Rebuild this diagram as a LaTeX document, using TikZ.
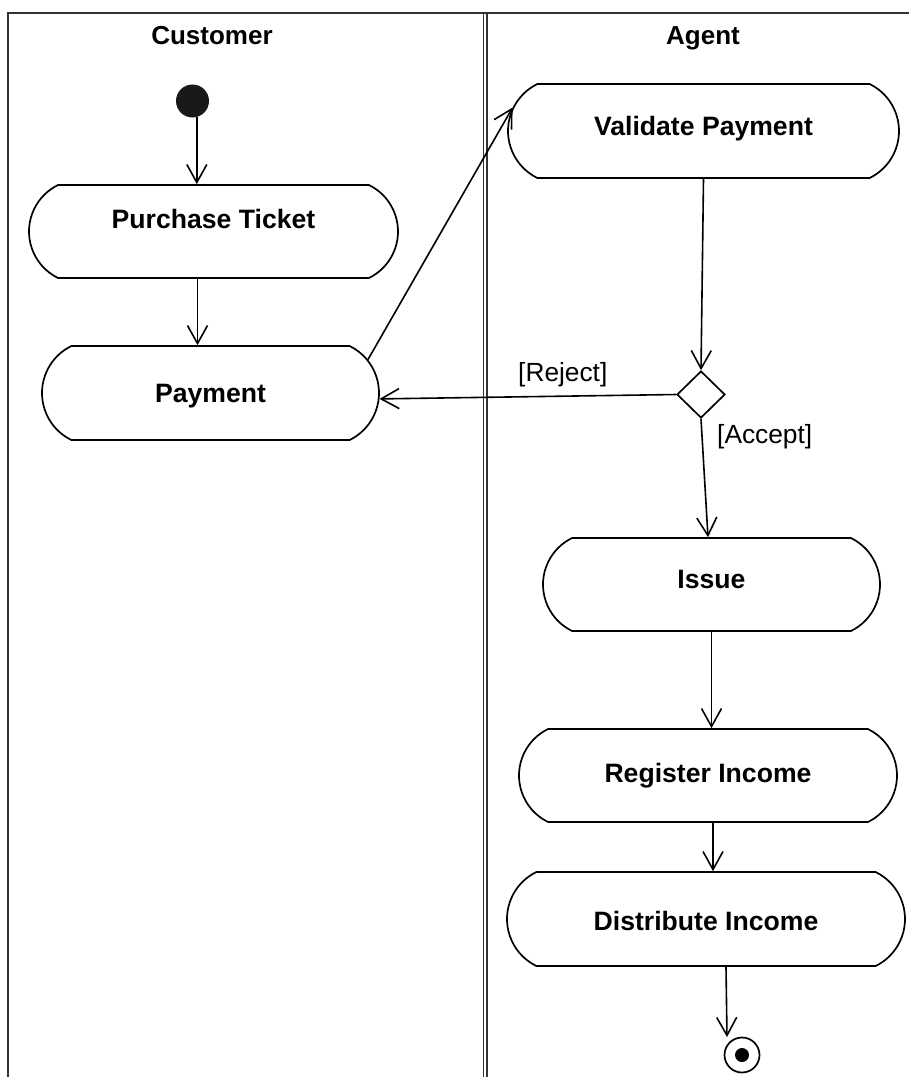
\documentclass[tikz,border=0pt]{standalone}
\usepackage{fontspec}
\setmainfont{Liberation Sans}
\usetikzlibrary{arrows.meta,shapes.misc,shapes.geometric,calc}
\begin{document}
\begin{tikzpicture}[x=1pt,y=-1pt,
  lane/.style={draw=black!80, line width=2pt},
  action/.style={rounded rectangle, rounded rectangle arc length=128, draw,
    line width=1.7pt, inner sep=0pt, text height=19pt, text depth=0pt,
    font=\bfseries\fontsize{26.6}{31}\selectfont},
  flow/.style={-{Straight Barb[length=18pt,width=20pt,line width=1.6pt]}, line width=1.6pt},
  guard/.style={font=\fontsize{26.3}{31}\selectfont, inner sep=0pt, anchor=base west},
  header/.style={font=\bfseries\fontsize{26}{31}\selectfont, inner sep=0pt, anchor=base},
]
\useasboundingbox (0,0) rectangle (909,1077);
\fill[white] (0,0) rectangle (909,1077);

% swimlane frame and partition
\draw[lane] (8,1077) -- (8,13) -- (909,13);
\draw[lane, line width=1.6pt] (483.5,13) -- (483.5,1077) (487,13) -- (487,1077);

% lane headers
\node[header] (hc) at (212,44) {Customer};
\node[header] (ha) at (703,44) {Agent};

% Customer lane
\node[circle, fill=black!90, minimum size=33pt, inner sep=0pt] (start) at (192.5,101) {};
\node[action, minimum width=369pt, minimum height=93pt, text depth=26pt] (pt) at (213.5,231.5) {Purchase Ticket};
\node[action, minimum width=337pt, minimum height=94pt] (pay) at (210.5,393) {Payment};

% Agent lane
\node[action, minimum width=391pt, minimum height=94pt, text depth=10pt] (vp) at (703.5,131) {Validate Payment};
\node[diamond, draw, line width=1.7pt, minimum width=48pt, minimum height=47pt, inner sep=0pt] (dec) at (701,394.5) {};
\node[action, minimum width=337pt, minimum height=93pt, text depth=11pt] (iss) at (711.5,584.5) {Issue};
\node[action, minimum width=378pt, minimum height=93pt, text depth=6pt] (ri) at (708,775.5) {Register Income};
\node[action, minimum width=398pt, minimum height=94pt, text height=23pt] (di) at (706,919) {Distribute Income};
\node[circle, draw, line width=1.7pt, minimum size=35pt, inner sep=0pt] (fin) at (742,1055) {};
\fill (fin.center) circle (7);

% guards
\node[guard] (rej) at (518,381.5) {[Reject]};
\node[guard] (acc) at (717,443.5) {[Accept]};

% control flows
\coordinate (ptout) at ($(pt.south)+(-16,0)$);
\draw[flow] (start.-75) -- (start.-75 |- pt.north);
\draw[flow] (ptout) -- (ptout |- pay.north);
\draw[flow] (pay.12) -- (vp.173);
\draw[flow] (vp.south) -- (dec.north);
\draw[flow] (dec.west) -- (pay.-2);
\draw[flow] (dec.south) -- ($(iss.north)+(-3.5,0)$);
\draw[flow] (iss.south) -- (iss.south |- ri.north);
\draw[flow] ($(ri.south)+(5,0)$) -- ($(di.north)+(7,0)$);
\draw[flow] ($(di.south)+(20,0)$) -- ($(fin.center)+(-15,-18)$);
\end{tikzpicture}
\end{document}
